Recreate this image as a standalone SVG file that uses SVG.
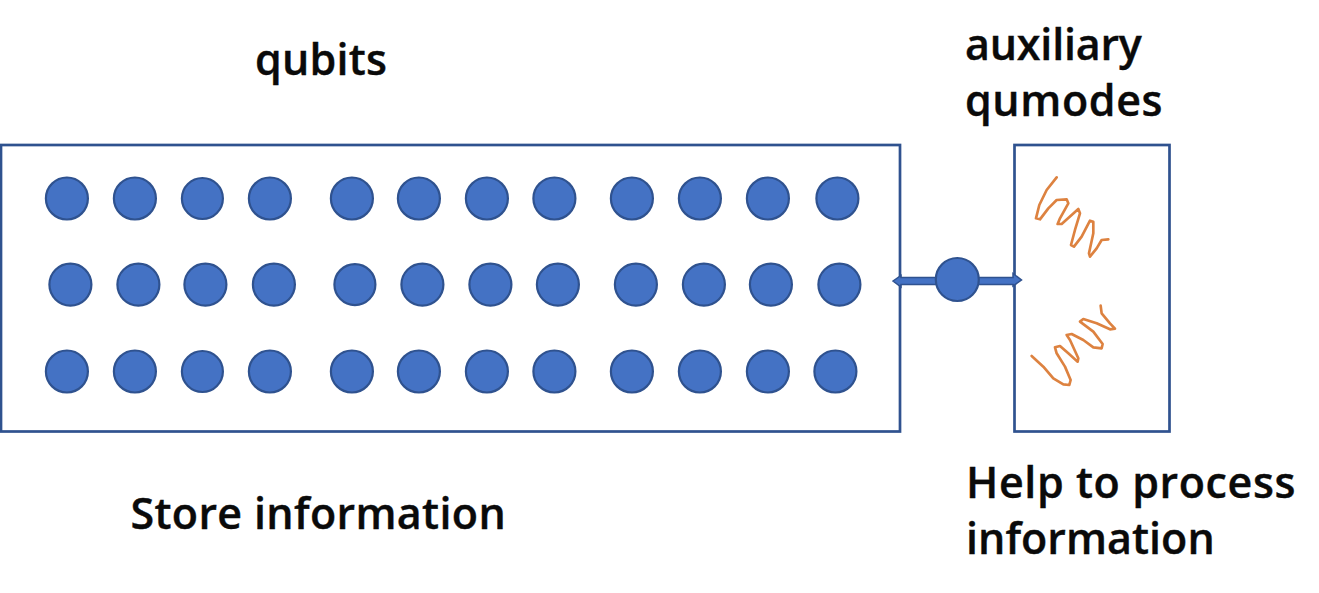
<svg xmlns="http://www.w3.org/2000/svg" width="1319" height="593" viewBox="0 0 1319 593">
<defs><style>
.box{fill:#fff;stroke:#2f528f;stroke-width:2.700}
.q{fill:#4472c4;stroke:#2f528f;stroke-width:2.200}
.t{font-family:"Open Sans","Noto Sans",sans-serif;font-size:43px;font-weight:600;letter-spacing:.25px;fill:#0a0a0a;stroke:#0a0a0a;stroke-width:.4}
.w{fill:none;stroke:#dd8240;stroke-width:8;stroke-linejoin:round;stroke-linecap:round}
</style></defs>
<rect width="1319" height="593" fill="#fff"/>
<g id="qubit-register">
<rect class="box" x="1" y="145" width="899" height="286.500"/>
<g id="row-1" transform="translate(.4 0)">
<circle class="q" cx="66.500" cy="198.500" r="21"/><circle class="q" cx="134.500" cy="198.500" r="21"/><circle class="q" cx="202" cy="198.500" r="20.500"/><circle class="q" cx="269.500" cy="198.500" r="21"/>
<circle class="q" cx="351.500" cy="198.500" r="21"/><circle class="q" cx="418.500" cy="198.500" r="21"/><circle class="q" cx="486.500" cy="198.500" r="21"/><circle class="q" cx="554" cy="198.500" r="21"/>
<circle class="q" cx="631.500" cy="198.500" r="21"/><circle class="q" cx="699.500" cy="198.500" r="21"/><circle class="q" cx="767.500" cy="198.500" r="21"/><circle class="q" cx="837" cy="198.500" r="21"/>
</g>
<g id="row-2" transform="translate(.4 -.4)">
<circle class="q" cx="70" cy="285" r="21"/><circle class="q" cx="138" cy="285" r="21"/><circle class="q" cx="205" cy="285" r="21"/><circle class="q" cx="273.500" cy="285" r="21"/>
<circle class="q" cx="354.500" cy="285" r="20.500"/><circle class="q" cx="422" cy="285" r="21"/><circle class="q" cx="490" cy="285" r="21"/><circle class="q" cx="557.500" cy="285" r="21"/>
<circle class="q" cx="635.500" cy="285" r="21"/><circle class="q" cx="703.500" cy="285" r="21"/><circle class="q" cx="770.500" cy="285" r="21"/><circle class="q" cx="839" cy="285" r="21"/>
</g>
<g id="row-3" transform="translate(.4 0)">
<circle class="q" cx="66.500" cy="371.500" r="21"/><circle class="q" cx="134.500" cy="371.500" r="21"/><circle class="q" cx="202" cy="371.500" r="20.500"/><circle class="q" cx="269.500" cy="371.500" r="21"/>
<circle class="q" cx="351.500" cy="371.500" r="21"/><circle class="q" cx="418.500" cy="371.500" r="21"/><circle class="q" cx="486.500" cy="371.500" r="21"/><circle class="q" cx="554" cy="371.500" r="21"/>
<circle class="q" cx="631.500" cy="371.500" r="21"/><circle class="q" cx="699.500" cy="371.500" r="21"/><circle class="q" cx="767.500" cy="371.500" r="21"/><circle class="q" cx="835" cy="371.500" r="21"/>
</g>
</g>
<g id="qumode-box">
<rect class="box" x="1014.500" y="145" width="155" height="286.500"/>
<g transform="translate(880 140) scale(.3333)">
<polyline class="w" points="530,112 500,150 478,195 468,235 480,238 505,205 530,180 560,178 565,190 540,235 533,252 545,252 575,225 595,207 600,220 585,270 573,315 582,320 605,290 630,242 640,245 640,280 627,340 630,350 650,325 665,300 685,298"/>
<polyline class="w" points="455,648 490,680 520,715 550,733 568,735 572,720 555,680 530,640 525,622 540,618 565,640 593,665 595,655 570,600 560,585 575,582 610,600 640,622 665,625 668,612 640,575 600,545 610,537 650,550 690,568 705,566 690,550 665,520 662,497"/>
</g>
</g>
<g id="connectors">
<path d="M893 281L901 275.500V277.500H1013V273.500L1021.500 280L1013 286V284.500H901V287Z" fill="#4472c4" stroke="#2f528f" stroke-width="1.500"/>
</g>
<g id="coupler"><circle class="q" cx="957.300" cy="279.500" r="21.500"/></g>
<g id="labels">
<text class="t" x="255" y="74.500">qubits</text>
<text class="t" x="965" y="60" style="letter-spacing:-.2px">auxiliary</text>
<text class="t" x="965" y="116" style="letter-spacing:.6px">qumodes</text>
<text class="t" x="130.500" y="528.500" style="letter-spacing:.35px">Store information</text>
<text class="t" x="966" y="497.500" style="letter-spacing:.6px">Help to process</text>
<text class="t" x="966" y="553.500" style="letter-spacing:.05px">information</text>
</g>
</svg>
